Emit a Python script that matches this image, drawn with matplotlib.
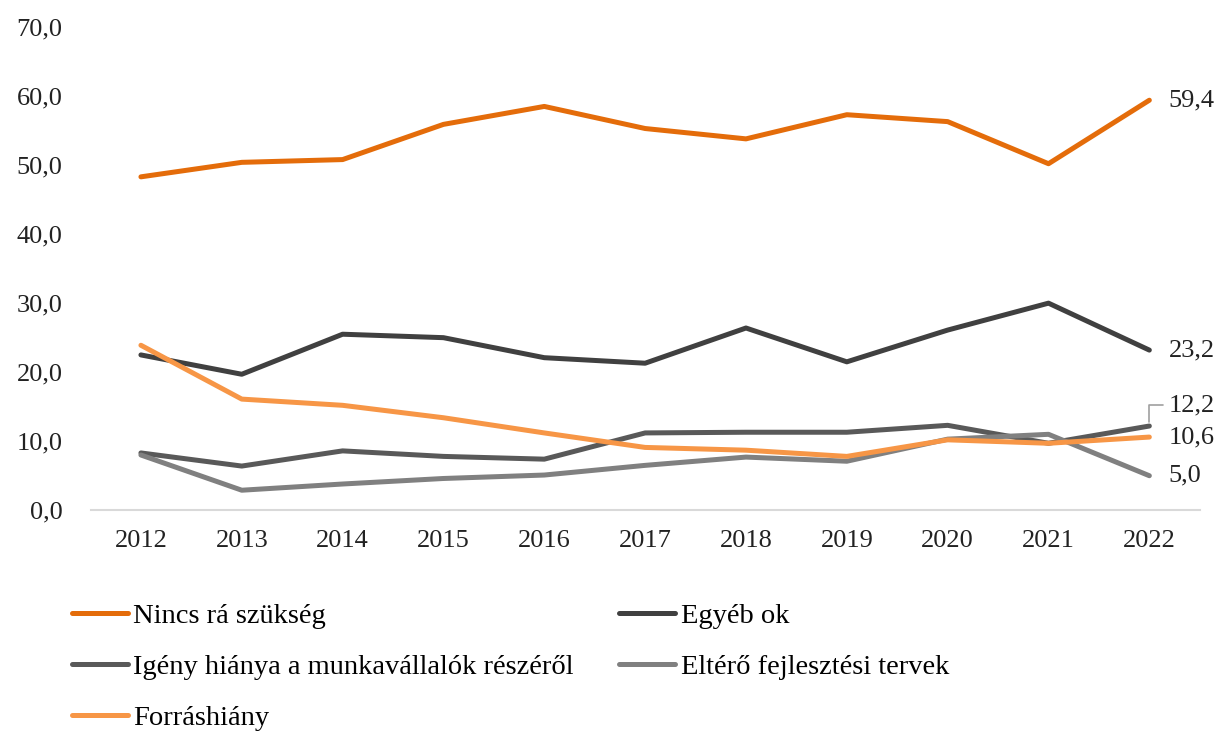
import matplotlib
matplotlib.use("Agg")
import matplotlib.pyplot as plt

plt.rcParams['font.family'] = ['Liberation Serif', 'DejaVu Serif']

years = [2012, 2013, 2014, 2015, 2016, 2017, 2018, 2019, 2020, 2021, 2022]

nincs = [48.3, 50.4, 50.8, 55.9, 58.5, 55.3, 53.8, 57.3, 56.3, 50.2, 59.4]
egyeb = [22.5, 19.7, 25.5, 25.0, 22.1, 21.3, 26.4, 21.5, 26.1, 30.0, 23.2]
igeny = [8.3, 6.4, 8.6, 7.8, 7.4, 11.2, 11.3, 11.3, 12.3, 9.7, 12.2]
eltero = [8.0, 2.9, 3.8, 4.6, 5.1, 6.5, 7.7, 7.1, 10.3, 11.0, 5.0]
forras = [23.9, 16.1, 15.2, 13.4, 11.2, 9.1, 8.7, 7.8, 10.2, 9.7, 10.6]

names = ["Nincs rá szükség", "Egyéb ok", "Igény hiánya a munkavállalók részéről",
         "Eltérő fejlesztési tervek", "Forráshiány"]
colors = ["#E46C0A", "#404040", "#595959", "#808080", "#F79646"]
series = [nincs, egyeb, igeny, eltero, forras]

fig = plt.figure(figsize=(12.23, 7.31), dpi=100)
ax = fig.add_axes([0.074, 0.302, 0.907, 0.661])

lines = []
for vals, name, c in zip(series, names, colors):
    ln, = ax.plot(years, vals, color=c, lw=3.6, solid_capstyle='round', label=name)
    lines.append(ln)

def fmt(v):
    return f"{v:.1f}".replace(".", ",")

# labels at the last year
fs = 19
for vals in [nincs, egyeb, forras, eltero]:
    ax.annotate(fmt(vals[-1]), (years[-1], vals[-1]), xytext=(14, 0), textcoords='offset points',
                va='center', fontsize=fs, color='#222222')
ax.annotate(fmt(igeny[-1]), (years[-1], igeny[-1]), xytext=(14, 15), textcoords='offset points',
            va='center', fontsize=fs, color='#222222',
            arrowprops=dict(arrowstyle='-', color='#A0A0A0', lw=1.2,
                            connectionstyle='angle,angleA=0,angleB=90,rad=0',
                            shrinkA=2, shrinkB=3))

ax.set_xlim(2011.5, 2022.5)
ax.set_ylim(0, 70)
ax.set_xticks(years)
ax.set_yticks(range(0, 71, 10))
ax.set_yticklabels([fmt(v) for v in range(0, 71, 10)])
ax.tick_params(axis='both', length=0, labelsize=fs, colors='#222222')
ax.tick_params(axis='x', pad=14)
ax.tick_params(axis='y', pad=20)
for s in ['top', 'right', 'left']:
    ax.spines[s].set_visible(False)
ax.spines['bottom'].set_color('#D9D9D9')
ax.spines['bottom'].set_linewidth(1.5)

order = [0, 2, 4, 1, 3]
fig.legend([lines[i] for i in order], [names[i] for i in order], ncol=2,
           loc='upper left', bbox_to_anchor=(0.038, 0.21), frameon=False,
           fontsize=20.5, handlelength=1.95, handletextpad=0.2, columnspacing=1.6,
           labelspacing=0.88)

fig.savefig("out.png", dpi=100)
